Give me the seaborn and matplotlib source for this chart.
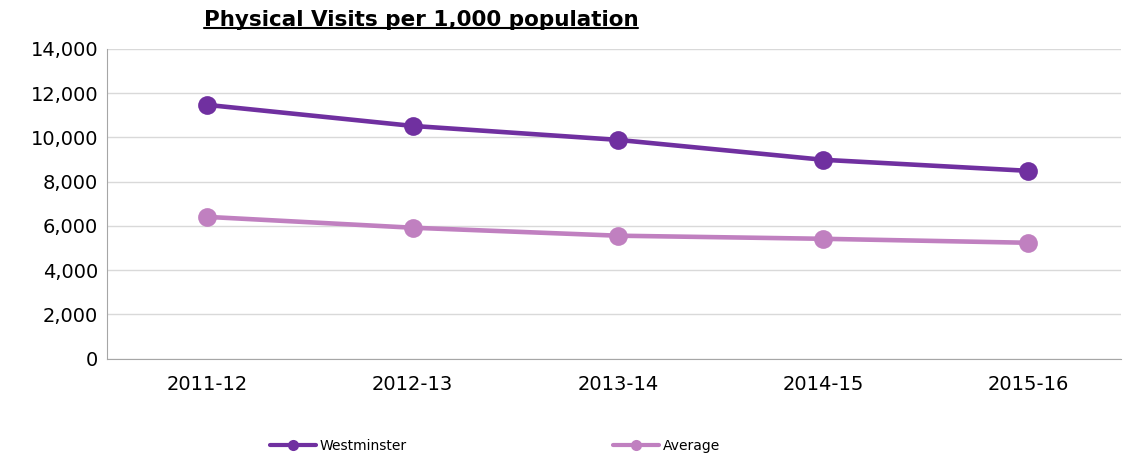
import matplotlib
matplotlib.use("Agg")
import matplotlib.pyplot as plt
import seaborn as sns
import pandas as pd

years = ["2011-12", "2012-13", "2013-14", "2014-15", "2015-16"]
westminster = [11470, 10520, 9890, 8990, 8490]
average = [6410, 5920, 5560, 5420, 5240]

sns.set_style("white")
plt.rcParams["font.family"] = ["DejaVu Sans"]
plt.rcParams["text.color"] = "black"
plt.rcParams["xtick.color"] = "black"
plt.rcParams["ytick.color"] = "black"

df = pd.DataFrame({
    "year": years * 2,
    "visits": westminster + average,
    "area": ["Westminster"] * len(years) + ["Average"] * len(years),
})
df["pos"] = list(range(len(years))) * 2

colors = {"Westminster": "#7030A0", "Average": "#C080C0"}

fig = plt.figure(figsize=(11.23, 4.57), dpi=100)
ax = fig.add_axes([0.095, 0.215, 0.903, 0.678])

sns.lineplot(data=df, x="pos", y="visits", hue="area", palette=colors,
             marker="o", markersize=13.5, markeredgewidth=0, linewidth=3.3,
             ax=ax, legend=False)

ax.set_xlim(-0.49, 4.45)
ax.set_ylim(0, 14000)
ax.set_yticks(range(0, 14001, 2000))
ax.set_yticklabels([f"{v:,}" for v in range(0, 14001, 2000)], fontsize=14)
ax.set_xticks(range(len(years)))
ax.set_xticklabels(years, fontsize=14)
ax.tick_params(axis="x", pad=12, length=0)
ax.tick_params(axis="y", pad=6, length=0)
ax.set_xlabel("")
ax.set_ylabel("")
ax.grid(axis="y", color="#d9d9d9", linewidth=1)
ax.set_axisbelow(True)
for side in ["top", "right"]:
    ax.spines[side].set_visible(False)
for side in ["left", "bottom"]:
    ax.spines[side].set_color("#a6a6a6")

t = fig.text(0.375, 0.935, "Physical Visits per 1,000 population", ha="center",
             va="bottom", fontsize=15.5, fontweight="heavy", color="black")
# underline the title
fig.canvas.draw()
bb = t.get_window_extent().transformed(fig.transFigure.inverted())
fig.add_artist(plt.Line2D([bb.x0, bb.x1], [bb.y0 + 0.003, bb.y0 + 0.003],
                          transform=fig.transFigure, color="black", linewidth=1.5))

handles = [plt.Line2D([0], [0], color=colors[k], marker="o", markersize=8,
                      linewidth=3, markeredgewidth=0) for k in ["Westminster", "Average"]]
fig.legend(handles[:1], ["Westminster"], loc="center left",
           bbox_to_anchor=(0.229, 0.024), frameon=False, fontsize=10,
           handlelength=3.3, handletextpad=0.3)
fig.legend(handles[1:], ["Average"], loc="center left",
           bbox_to_anchor=(0.535, 0.024), frameon=False, fontsize=10,
           handlelength=3.3, handletextpad=0.3)

fig.savefig("out.png", dpi=100)
